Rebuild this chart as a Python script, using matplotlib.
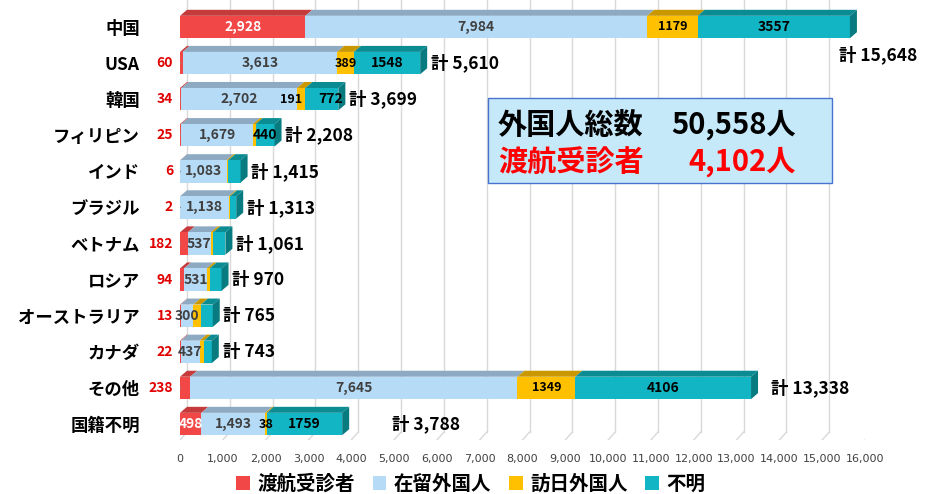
import matplotlib
matplotlib.use("Agg")
import matplotlib.pyplot as plt
from matplotlib.patches import Polygon, Rectangle, Patch

plt.rcParams['font.family'] = ['Noto Sans CJK JP', 'DejaVu Sans']

# data
categories = ['中国', 'USA', '韓国', 'フィリピン', 'インド', 'ブラジル', 'ベトナム',
              'ロシア', 'オーストラリア', 'カナダ', 'その他', '国籍不明']
tokou = [2928, 60, 34, 25, 6, 2, 182, 94, 13, 22, 238, 498]          # 渡航受診者
zairyu = [7984, 3613, 2702, 1679, 1083, 1138, 537, 531, 300, 437, 7645, 1493]  # 在留外国人
hounichi = [1179, 389, 191, 64, 40, 30, 60, 65, 175, 100, 1349, 38]   # 訪日外国人
fumei = [3557, 1548, 772, 440, 286, 143, 282, 280, 277, 184, 4106, 1759]  # 不明
series_names = ['渡航受診者', '在留外国人', '訪日外国人', '不明']
xticks = list(range(0, 16001, 1000))

# which segment values get a label
show_yellow = [0, 1, 2, 10, 11]
show_cyan = [0, 1, 2, 3, 10, 11]
# small nudges so crowded labels sit like the original
yellow_shift = {2: -230}
cyan_shift = {2: 200}

front = ['#F24747', '#B5DBF7', '#FFC000', '#12B5C3']
top = ['#C53A3B', '#8DAAC2', '#C99800', '#0B8C93']
side = '#087B80'

W, H = 937, 494
fig = plt.figure(figsize=(W / 100, H / 100), dpi=100)
ax = fig.add_axes([180 / W, 54 / H, 685 / W, 440 / H])
ax.set_xlim(0, 16000)
ax.set_ylim(11.443, -0.748)
for s in ax.spines.values():
    s.set_visible(False)

dx = 7 / 685 * 16000     # 3D depth in data units
dy = 6 / 36.1            # 3D depth in row units
bh = 0.62                # front face height

# back wall grid and floor
for t in xticks:
    ax.plot([t + dx, t + dx], [-0.748, 11.443 - 0.22], color='#D9D9D9', lw=1, zorder=0)
    ax.plot([t + dx, t], [11.443 - 0.22, 11.443], color='#D9D9D9', lw=1, zorder=0)

for i, cat in enumerate(categories):
    vals = [tokou[i], zairyu[i], hounichi[i], fumei[i]]
    yt = i - bh / 2
    yb = i + bh / 2
    x0 = 0
    for k, v in enumerate(vals):
        x1 = x0 + v
        ax.add_patch(Polygon([(x0, yt), (x0 + dx, yt - dy), (x1 + dx, yt - dy), (x1, yt)],
                             closed=True, facecolor=top[k], edgecolor='none', zorder=2 + i * 0.01))
        ax.add_patch(Rectangle((x0, yt), v, bh, facecolor=front[k], edgecolor='none',
                               zorder=2 + i * 0.01))
        x0 = x1
    total = x0
    ax.add_patch(Polygon([(total, yt), (total + dx, yt - dy), (total + dx, yb - dy), (total, yb)],
                         closed=True, facecolor=side, edgecolor='none', zorder=2 + i * 0.01))

    # red segment label
    if i in (0, 11):
        ax.text(tokou[i] / 2, i, f'{tokou[i]:,}', ha='center', va='center', color='white',
                fontsize=10, fontweight='bold', zorder=5)
    else:
        ax.plot([-150, 0], [i, i], color='#909090', lw=0.8, zorder=3)
        ax.text(-160, i, str(tokou[i]), ha='right', va='center', color='#E00000',
                fontsize=10, fontweight='bold', zorder=5)

    # light blue label
    ax.text(tokou[i] + zairyu[i] / 2, i, f'{zairyu[i]:,}', ha='center', va='center',
            color='#404040', fontsize=10, fontweight='bold', zorder=5)
    if i in show_yellow:
        ax.text(tokou[i] + zairyu[i] + hounichi[i] / 2 + yellow_shift.get(i, 0), i,
                str(hounichi[i]), ha='center', va='center', color='black', fontsize=9,
                fontweight='bold', zorder=5)
    if i in show_cyan:
        ax.text(total - fumei[i] / 2 + cyan_shift.get(i, 0), i, str(fumei[i]), ha='center',
                va='center', color='black', fontsize=10, fontweight='bold', zorder=5)

    # total label
    if i == 0:
        tx, ty = total - 260, i + 0.78
    elif i == 10:
        tx, ty = total + 470, i
    elif i == 11:
        tx, ty = total + 1170, i
    else:
        tx, ty = total + 250, i
    ax.text(tx, ty, f'計 {total:,}', ha='left', va='center', color='black',
            fontsize=12.5, fontweight='bold', zorder=5)

ax.set_yticks(range(len(categories)))
ax.set_yticklabels(categories, fontsize=12.5, fontweight='bold')
ax.tick_params(axis='y', length=0, pad=29)
ax.set_xticks(xticks)
ax.set_xticklabels([f'{t:,}' for t in xticks], fontsize=8, color='#404040',
                   family='DejaVu Sans')
ax.tick_params(axis='x', length=0, pad=10)

# summary box
grand_total = sum(tokou) + sum(zairyu) + sum(hounichi) + sum(fumei)
fig.patches.append(Rectangle((488 / W, 1 - 183 / H), 344 / W, 85 / H, transform=fig.transFigure,
                             facecolor='#C6E9F9', edgecolor='#4A72D0', lw=1, zorder=1))
fig.text(498 / W, 1 - 125 / H, '外国人総数', fontsize=21, fontweight='bold', color='black',
         va='center', ha='left')
fig.text(796 / W, 1 - 125 / H, f'{grand_total:,}人', fontsize=21, fontweight='bold',
         color='black', va='center', ha='right')
fig.text(498 / W, 1 - 162 / H, '渡航受診者', fontsize=21, fontweight='bold', color='#FF0000',
         va='center', ha='left')
fig.text(796 / W, 1 - 162 / H, f'{sum(tokou):,}人', fontsize=21, fontweight='bold',
         color='#FF0000', va='center', ha='right')

handles = [Patch(facecolor=front[k], edgecolor='none', label=series_names[k]) for k in range(4)]
leg = fig.legend(handles=handles, loc='center', bbox_to_anchor=(471 / W, 1 - 484 / H), ncol=4,
                 frameon=False, handlelength=0.7, handleheight=0.7, handletextpad=0.4,
                 columnspacing=0.9, prop={'size': 14, 'weight': 'bold'})

fig.savefig('out.png', dpi=100)
